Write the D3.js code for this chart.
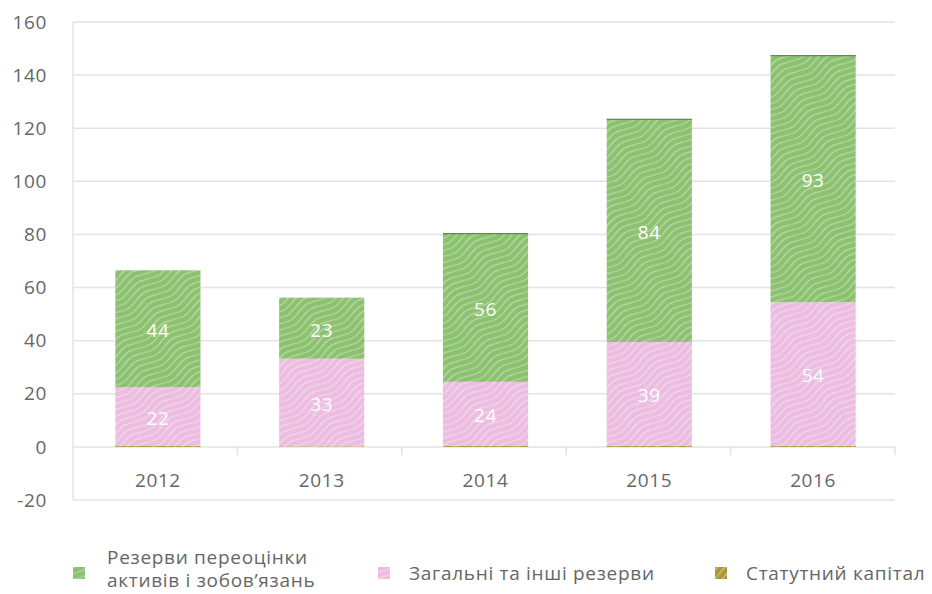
<!DOCTYPE html>
<html>
<head>
<meta charset="utf-8">
<script src="https://cdn.jsdelivr.net/npm/d3@7"></script>
<style>
  html, body { margin: 0; padding: 0; background: #fff; }
  svg { display: block; font-family: "Open Sans", "Noto Sans", sans-serif; }
</style>
</head>
<body>
<svg id="chart" width="932" height="594"></svg>
<script>
// Years on the category axis
const years = ["2012", "2013", "2014", "2015", "2016"];
// Capital components, bn UAH (stacked bottom to top)
const statutoryCapital = [0.5, 0.2, 0.5, 0.5, 0.5];
const generalReserves = [22, 33, 24, 39, 54];
const revaluationReserves = [44, 23, 56, 84, 93];
// Axis ticks
const yTicks = [-20, 0, 20, 40, 60, 80, 100, 120, 140, 160];
// Legend labels
const seriesNames = ["Резерви переоцінки\nактивів і зобов’язань", "Загальні та інші резерви", "Статутний капітал"];

(function draw() {
  const svg = d3.select("#chart");
  const plotLeft = 73, plotRight = 895, plotTop = 22, plotBottom = 500;
  const labelFont = 19;

  const x = d3.scaleBand().domain(years).range([plotLeft + 3, plotRight]).paddingInner(0.48).paddingOuter(0.24);
  const y = d3.scaleLinear().domain([-20, 160]).range([plotBottom, plotTop]);

  // Wavy hatch patterns
  const defs = svg.append("defs");
  function wavePattern(id, fill) {
    const p = defs.append("pattern")
      .attr("id", id).attr("patternUnits", "userSpaceOnUse")
      .attr("width", 44).attr("height", 6)
      .attr("patternTransform", "rotate(-32)");
    p.append("rect").attr("width", 44).attr("height", 6).attr("fill", fill);
    p.append("path")
      .attr("d", "M0,3 C11,-0.5 11,-0.5 22,3 C33,6.5 33,6.5 44,3")
      .attr("fill", "none").attr("stroke", "#fff").attr("stroke-opacity", 0.42).attr("stroke-width", 1.2);
  }
  wavePattern("pGreen", "#8cc170");
  wavePattern("pPink", "#ecbde0");
  wavePattern("pOlive", "#a99a35");

  // Gridlines
  svg.append("g").selectAll("line").data(yTicks).join("line")
    .attr("x1", plotLeft).attr("x2", plotRight)
    .attr("y1", d => y(d)).attr("y2", d => y(d))
    .attr("stroke", "#e3e3e3").attr("stroke-width", 1.5);
  svg.append("line").attr("x1", plotLeft).attr("x2", plotLeft).attr("y1", y(160)).attr("y2", y(-20))
    .attr("stroke", "#e3e3e3").attr("stroke-width", 1.5);

  // Y axis labels
  svg.append("g").selectAll("text").data(yTicks).join("text")
    .attr("x", 47).attr("y", d => y(d)).attr("dy", "0.35em")
    .attr("text-anchor", "end").attr("font-size", labelFont).attr("fill", "#666")
    .attr("letter-spacing", 0.6)
    .text(d => d);

  // Category tick marks at band boundaries
  const tickXs = d3.range(1, years.length + 1).map(i => plotLeft + (plotRight - plotLeft) * i / years.length);
  svg.append("g").selectAll("line").data(tickXs).join("line")
    .attr("x1", d => d).attr("x2", d => d)
    .attr("y1", y(0)).attr("y2", y(0) + 8)
    .attr("stroke", "#e3e3e3").attr("stroke-width", 1.5);

  // X axis labels
  svg.append("g").selectAll("text").data(years).join("text")
    .attr("x", d => x(d) + x.bandwidth() / 2).attr("y", 480).attr("dy", "0.35em")
    .attr("text-anchor", "middle").attr("font-size", labelFont).attr("fill", "#666")
    .attr("letter-spacing", 0.6)
    .text(d => d);

  // Stacked bars
  const rows = years.map((yr, i) => ({
    year: yr, statutory: statutoryCapital[i], general: generalReserves[i], reval: revaluationReserves[i]
  }));
  const keys = ["statutory", "general", "reval"];
  const fills = { statutory: "url(#pOlive)", general: "url(#pPink)", reval: "url(#pGreen)" };
  const stacked = d3.stack().keys(keys)(rows);

  const barG = svg.append("g");
  stacked.forEach(layer => {
    barG.append("g").selectAll("rect").data(layer).join("rect")
      .attr("x", d => x(d.data.year)).attr("width", x.bandwidth())
      .attr("y", d => y(d[1])).attr("height", d => y(d[0]) - y(d[1]))
      .attr("fill", fills[layer.key]);
  });

  // Darker rim on top of the taller bars
  const topLayer = stacked[2];
  barG.append("g").selectAll("line").data(topLayer.filter((d, i) => i >= 2)).join("line")
    .attr("x1", d => x(d.data.year)).attr("x2", d => x(d.data.year) + x.bandwidth())
    .attr("y1", d => y(d[1]) + 0.5).attr("y2", d => y(d[1]) + 0.5)
    .attr("stroke", "#5f8f3f").attr("stroke-width", 1.2);

  // Value labels for the reserve segments
  [1, 2].forEach(k => {
    const layer = stacked[k];
    barG.append("g").selectAll("text").data(layer).join("text")
      .attr("x", d => x(d.data.year) + x.bandwidth() / 2)
      .attr("y", d => (y(d[0]) + y(d[1])) / 2 + 1.5).attr("dy", "0.36em")
      .attr("text-anchor", "middle").attr("font-size", labelFont).attr("fill", "#fff")
      .attr("letter-spacing", 0.6)
      .text(d => Math.round(d[1] - d[0]));
  });

  // Legend
  const legendItems = [
    { name: seriesNames[0], fill: "url(#pGreen)", sx: 73, tx: 107 },
    { name: seriesNames[1], fill: "url(#pPink)", sx: 378, tx: 409 },
    { name: seriesNames[2], fill: "url(#pOlive)", sx: 715, tx: 746 }
  ];
  const lg = svg.append("g");
  legendItems.forEach(it => {
    lg.append("rect").attr("x", it.sx).attr("y", 567).attr("width", 12).attr("height", 12).attr("fill", it.fill);
    const lines = it.name.split("\n");
    const y0 = lines.length > 1 ? 564 : 580;
    lines.forEach((ln, i) => {
      lg.append("text").attr("font-size", 19).attr("fill", "#666").attr("letter-spacing", 0.7)
        .attr("x", it.tx).attr("y", y0 + i * 23).text(ln);
    });
  });
})();
</script>
</body>
</html>
